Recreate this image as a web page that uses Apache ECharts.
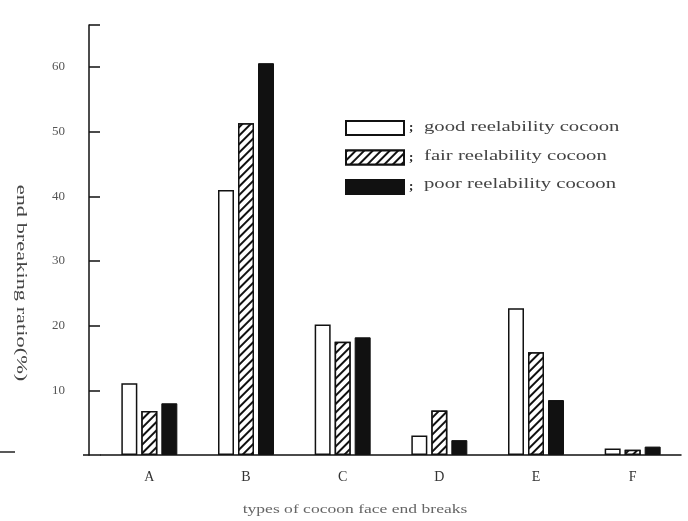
<!DOCTYPE html>
<html>
<head>
<meta charset="utf-8">
<script src="https://cdn.jsdelivr.net/npm/echarts@6/dist/echarts.min.js"></script>
<style>html,body{margin:0;padding:0;background:#fff}#main{width:688px;height:521px}</style>
</head>
<body>
<div id="main"></div>
<script>
var categories = ['A', 'B', 'C', 'D', 'E', 'F'];
var seriesNames = ['good reelability cocoon', 'fair reelability cocoon', 'poor reelability cocoon'];
var goodValues = [11.1, 41.0, 20.2, 3.0, 22.7, 1.0];
var fairValues = [6.8, 51.3, 17.5, 6.9, 15.9, 0.8];
var poorValues = [8.0, 60.6, 18.2, 2.3, 8.5, 1.3];
var yTickValues = [10, 20, 30, 40, 50, 60, 66.5];
var yLabelValues = [10, 20, 30, 40, 50, 60];
var yAxisTitle = 'end breaking ratio(%)';
var xAxisTitle = 'types of cocoon face end breaks';

var serif = '"Liberation Serif", "DejaVu Serif", serif';
var chart = echarts.init(document.getElementById('main'), null, {renderer: 'canvas'});

var legendTop = 120, legendRow = 28.5;
var legendTexts = seriesNames.map(function (n, i) {
  return {type: 'text', x: 424, y: legendTop + 7.5 + i * legendRow, scaleX: 1.38,
    style: {text: n, fontFamily: serif, fontSize: 15, fill: '#444', align: 'left', verticalAlign: 'middle'}};
});

var option = {
  backgroundColor: '#fff',
  animation: false,
  grid: {left: 101, right: 7, top: 25, bottom: 66, containLabel: false},
  legend: {
    orient: 'vertical',
    left: 345, top: legendTop, padding: 0,
    itemWidth: 58, itemHeight: 14, itemGap: 13.5,
    icon: 'rect',
    formatter: function () { return ';'; },
    textStyle: {fontFamily: serif, fontSize: 13, fontWeight: 'bold', color: '#222', lineHeight: 14}
  },
  xAxis: {
    type: 'category',
    data: categories,
    axisLine: {lineStyle: {color: '#111', width: 1.5}},
    axisTick: {show: false},
    axisLabel: {margin: 15, fontFamily: serif, fontSize: 14, color: '#333'}
  },
  yAxis: {
    type: 'value', min: 0, max: 66.5,
    offset: 12,
    axisLine: {show: true, lineStyle: {color: '#111', width: 1.5}},
    axisTick: {show: true, inside: true, length: 11, lineStyle: {color: '#111', width: 1.5}, customValues: yTickValues},
    axisLabel: {margin: 24, fontFamily: serif, fontSize: 13, color: '#555', customValues: yLabelValues},
    splitLine: {show: false}
  },
  graphic: [
    {type: 'text', x: 21, y: 283, rotation: -Math.PI / 2, scaleX: 1.6,
     style: {text: yAxisTitle, fontFamily: serif, fontSize: 14, fill: '#444', align: 'center', verticalAlign: 'middle'}},
    {type: 'text', x: 355, y: 510, scaleX: 1.35,
     style: {text: xAxisTitle, fontFamily: serif, fontSize: 13, fill: '#666', align: 'center', verticalAlign: 'middle'}},
    {type: 'line', shape: {x1: 83, y1: 455, x2: 101, y2: 455}, style: {stroke: '#111', lineWidth: 1.5}},
    {type: 'line', shape: {x1: 0, y1: 452, x2: 15, y2: 452}, style: {stroke: '#222', lineWidth: 1.5}}
  ].concat(legendTexts),
  series: [
    {name: seriesNames[0], type: 'bar', data: goodValues, barWidth: 16, barGap: '25%',
     itemStyle: {color: '#fff', borderColor: '#111', borderWidth: 1.5}},
    {name: seriesNames[1], type: 'bar', data: fairValues, barWidth: 16, barGap: '25%',
     itemStyle: {color: '#fff', borderColor: '#111', borderWidth: 1.5,
       decal: {symbol: 'rect', color: '#111', backgroundColor: '#fff', dashArrayX: [1, 0], dashArrayY: [1.5, 3.5], rotation: -Math.PI / 4}}},
    {name: seriesNames[2], type: 'bar', data: poorValues, barWidth: 16, barGap: '25%',
     itemStyle: {color: '#111', borderColor: '#111', borderWidth: 1}}
  ]
};
chart.setOption(option);
</script>
</body>
</html>
